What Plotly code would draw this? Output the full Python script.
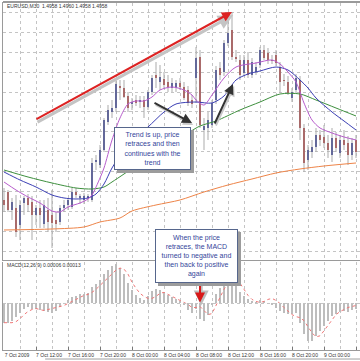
import plotly.graph_objects as go
import pandas as pd

# ---------------- data ----------------
start_time = "2009-10-07 08:00"
bar_minutes = 30

opens = [1.4672, 1.4680, 1.4662, 1.4664, 1.4647, 1.4669, 1.4674, 1.4670, 1.4657, 1.4664,
         1.4648, 1.4662, 1.4657, 1.4652, 1.4650, 1.4664, 1.4667, 1.4665, 1.4680, 1.4674,
         1.4672, 1.4674, 1.4672, 1.4710, 1.4707, 1.4722, 1.4750, 1.4760, 1.4764, 1.4786,
         1.4784, 1.4776, 1.4768, 1.4772, 1.4770, 1.4772, 1.4765, 1.4780, 1.4797, 1.4790,
         1.4793, 1.4790, 1.4784, 1.4784, 1.4789, 1.4785, 1.4782, 1.4772, 1.4794, 1.4815,
         1.4742, 1.4744, 1.4747, 1.4772, 1.4804, 1.4800, 1.4829, 1.4842, 1.4815, 1.4812,
         1.4799, 1.4812, 1.4797, 1.4800, 1.4807, 1.4822, 1.4819, 1.4812, 1.4817, 1.4805,
         1.4792, 1.4790, 1.4774, 1.4782, 1.4792, 1.4744, 1.4712, 1.4720, 1.4725, 1.4737,
         1.4735, 1.4729, 1.4717, 1.4734, 1.4719, 1.4732, 1.4729, 1.4717, 1.4732]
highs = [1.4684, 1.4682, 1.4674, 1.4677, 1.4672, 1.4676, 1.4678, 1.4676, 1.4667, 1.4672,
         1.4672, 1.4674, 1.4682, 1.4660, 1.4667, 1.4672, 1.4674, 1.4684, 1.4684, 1.4678,
         1.4679, 1.4678, 1.4714, 1.4717, 1.4727, 1.4754, 1.4767, 1.4772, 1.4794, 1.4792,
         1.4792, 1.4780, 1.4774, 1.4777, 1.4776, 1.4776, 1.4782, 1.4797, 1.4810, 1.4807,
         1.4800, 1.4797, 1.4794, 1.4792, 1.4794, 1.4790, 1.4786, 1.4777, 1.4825, 1.4822,
         1.4754, 1.4760, 1.4772, 1.4806, 1.4810, 1.4832, 1.4854, 1.4860, 1.4822, 1.4817,
         1.4817, 1.4820, 1.4814, 1.4810, 1.4825, 1.4827, 1.4824, 1.4817, 1.4822, 1.4810,
         1.4798, 1.4796, 1.4784, 1.4798, 1.4796, 1.4748, 1.4727, 1.4732, 1.4744, 1.4742,
         1.4747, 1.4737, 1.4744, 1.4740, 1.4737, 1.4742, 1.4736, 1.4734, 1.4737]
lows = [1.4660, 1.4660, 1.4652, 1.4635, 1.4632, 1.4657, 1.4660, 1.4632, 1.4647, 1.4644,
        1.4644, 1.4640, 1.4624, 1.4640, 1.4647, 1.4660, 1.4662, 1.4663, 1.4674, 1.4668,
        1.4668, 1.4670, 1.4670, 1.4702, 1.4704, 1.4720, 1.4747, 1.4754, 1.4760, 1.4772,
        1.4774, 1.4760, 1.4762, 1.4766, 1.4764, 1.4754, 1.4762, 1.4777, 1.4784, 1.4782,
        1.4784, 1.4780, 1.4780, 1.4780, 1.4782, 1.4772, 1.4766, 1.4764, 1.4769, 1.4744,
        1.4722, 1.4732, 1.4744, 1.4768, 1.4792, 1.4796, 1.4826, 1.4812, 1.4810, 1.4792,
        1.4796, 1.4794, 1.4794, 1.4797, 1.4804, 1.4812, 1.4808, 1.4808, 1.4806, 1.4779,
        1.4786, 1.4777, 1.4770, 1.4778, 1.4732, 1.4700, 1.4702, 1.4714, 1.4720, 1.4726,
        1.4724, 1.4714, 1.4710, 1.4720, 1.4714, 1.4722, 1.4707, 1.4712, 1.4714]
closes = [1.4667, 1.4662, 1.4670, 1.4640, 1.4667, 1.4674, 1.4667, 1.4657, 1.4664, 1.4657,
          1.4667, 1.4650, 1.4649, 1.4648, 1.4664, 1.4667, 1.4672, 1.4680, 1.4677, 1.4675,
          1.4676, 1.4676, 1.4709, 1.4712, 1.4722, 1.4752, 1.4762, 1.4764, 1.4788, 1.4784,
          1.4775, 1.4764, 1.4770, 1.4769, 1.4772, 1.4765, 1.4780, 1.4794, 1.4794, 1.4795,
          1.4787, 1.4785, 1.4789, 1.4789, 1.4785, 1.4774, 1.4769, 1.4768, 1.4814, 1.4747,
          1.4746, 1.4752, 1.4769, 1.4802, 1.4797, 1.4829, 1.4839, 1.4815, 1.4813, 1.4797,
          1.4812, 1.4797, 1.4810, 1.4805, 1.4822, 1.4814, 1.4812, 1.4811, 1.4809, 1.4790,
          1.4791, 1.4779, 1.4780, 1.4794, 1.4744, 1.4709, 1.4722, 1.4725, 1.4737, 1.4732,
          1.4729, 1.4722, 1.4734, 1.4724, 1.4732, 1.4727, 1.4717, 1.4729, 1.4720]

# moving averages read at selected bars (bar index, price)
ma_fast_bars = [0, 3, 6, 9, 12, 14, 16, 19, 21, 22, 24, 25, 27, 29, 31, 33, 35, 37, 39, 42,
                45, 47, 48, 50, 52, 55, 58, 63, 67, 69, 71, 73, 74, 75, 77, 79, 82, 85, 88]
ma_fast = [1.4690, 1.4682, 1.4675, 1.4669, 1.4661, 1.4660, 1.4665, 1.4669, 1.4673, 1.4677,
           1.4694, 1.4704, 1.4732, 1.4754, 1.4768, 1.4771, 1.4771, 1.4775, 1.4782, 1.4785,
           1.4782, 1.4777, 1.4772, 1.4767, 1.4777, 1.4794, 1.4805, 1.4809, 1.4812, 1.4808,
           1.4800, 1.4790, 1.4780, 1.4769, 1.4752, 1.4744, 1.4739, 1.4735, 1.4732]
ma_mid_bars = [0, 4, 8, 12, 15, 18, 21, 23, 25, 27, 30, 33, 36, 40, 43, 48, 52, 55, 58, 61,
               64, 68, 71, 74, 76, 78, 82, 85, 88]
ma_mid = [1.4700, 1.4692, 1.4685, 1.4677, 1.4674, 1.4673, 1.4674, 1.4678, 1.4688, 1.4704,
          1.4722, 1.4735, 1.4745, 1.4760, 1.4768, 1.4770, 1.4769, 1.4776, 1.4792, 1.4798,
          1.4801, 1.4805, 1.4802, 1.4792, 1.4784, 1.4774, 1.4760, 1.4751, 1.4742]
ma_slow_bars = [0, 6, 12, 18, 22, 25, 27, 30, 34, 38, 42, 46, 49, 53, 59, 64, 69, 74, 78, 83, 88]
ma_slow = [1.4702, 1.4695, 1.4689, 1.4684, 1.4683, 1.4685, 1.4690, 1.4698, 1.4709, 1.4720,
           1.4730, 1.4739, 1.4746, 1.4751, 1.4762, 1.4770, 1.4778, 1.4778, 1.4772, 1.4764, 1.4756]
ma_long_bars = [0, 12, 20, 24, 29, 32, 38, 44, 50, 56, 62, 68, 74, 80, 88]
ma_long = [1.4642, 1.4643, 1.4645, 1.4650, 1.4654, 1.4661, 1.4667, 1.4672, 1.4680, 1.4687,
           1.4693, 1.4699, 1.4703, 1.4706, 1.4709]

macd_hist = [-0.00095, -0.00095, -0.00085, -0.00065, -0.00045, -0.00025, -0.00015, -0.00025, -0.00025, -0.00030,
             -0.00035, -0.00040, -0.00045, -0.00035, -0.00015, 0.00000, 0.00015, 0.00030, 0.00035, 0.00045,
             0.00045, 0.00050, 0.00080, 0.00095, 0.00115, 0.00145, 0.00165, 0.00185, 0.00195, 0.00175,
             0.00145, 0.00100, 0.00065, 0.00040, 0.00025, 0.00015, 0.00035, 0.00060, 0.00070, 0.00065,
             0.00055, 0.00040, 0.00030, 0.00020, 0.00010, -0.00010, -0.00030, -0.00045, -0.00025, -0.00075,
             -0.00085, -0.00055, -0.00005, 0.00045, 0.00075, 0.00100, 0.00115, 0.00105, 0.00085, 0.00055,
             0.00035, 0.00020, 0.00010, 0.00005, 0.00015, 0.00010, 0.00000, -0.00010, -0.00020, -0.00035,
             -0.00045, -0.00050, -0.00050, -0.00045, -0.00095, -0.00150, -0.00185, -0.00185, -0.00160, -0.00135,
             -0.00110, -0.00085, -0.00060, -0.00050, -0.00040, -0.00035, -0.00040, -0.00030, -0.00025]
macd_signal = [-0.00095, -0.00095, -0.00095, -0.00090, -0.00075, -0.00055, -0.00040, -0.00030, -0.00025, -0.00030,
               -0.00035, -0.00030, -0.00025, -0.00020, -0.00015, -0.00010, 0.00000, 0.00010, 0.00020, 0.00030,
               0.00040, 0.00045, 0.00055, 0.00070, 0.00090, 0.00105, 0.00125, 0.00145, 0.00165, 0.00175,
               0.00170, 0.00145, 0.00105, 0.00075, 0.00050, 0.00035, 0.00025, 0.00025, 0.00035, 0.00050,
               0.00055, 0.00045, 0.00035, 0.00025, 0.00015, 0.00005, -0.00005, -0.00020, -0.00020, -0.00015,
               -0.00035, -0.00055, -0.00050, -0.00010, 0.00030, 0.00070, 0.00100, 0.00120, 0.00120, 0.00100,
               0.00070, 0.00040, 0.00020, 0.00010, 0.00005, 0.00010, 0.00020, 0.00025, 0.00015, 0.00000,
               -0.00020, -0.00040, -0.00055, -0.00065, -0.00070, -0.00085, -0.00115, -0.00145, -0.00165, -0.00160,
               -0.00135, -0.00110, -0.00080, -0.00055, -0.00040, -0.00030, -0.00020, -0.00015, -0.00010]

tick_bars = [0, 8, 16, 24, 32, 40, 48, 56, 64, 72, 80, 88]
tick_labels = ["7 Oct 2009", "7 Oct 12:00", "7 Oct 16:00", "7 Oct 20:00", "8 Oct 00:00", "8 Oct 04:00",
               "8 Oct 08:00", "8 Oct 12:00", "8 Oct 16:00", "8 Oct 20:00", "9 Oct 00:00", "9 Oct 04:00"]

header_text = "EURUSD,M30  1.4958 1.4960 1.4958 1.4958"
macd_text = "MACD(12,26,9) 0.00006 0.00013"
note_trend = "Trend is up, price<br>retraces and then<br>continues with the<br>trend"
note_macd = "When the price<br>retraces, the MACD<br>turned to negative and<br>then back to positive<br>again"

# ---------------- helpers ----------------
t0 = pd.Timestamp(start_time)
step = pd.Timedelta(minutes=bar_minutes)


def t(i):
    return (t0 + step * i).strftime("%Y-%m-%d %H:%M:%S")


n = len(opens)
times = [t(i) for i in range(n)]
BAR_MS = bar_minutes * 60 * 1000

BULL = "#1c2788"
BEAR = "#a82a2a"
WICK = "#ababab"
GRID = "#c4c4c4"
FRAME = "#9a9a9a"
FONT = "Liberation Sans, Arial, sans-serif"

fig = go.Figure()

# wicks
wx, wy = [], []
for i in range(n):
    wx += [times[i], times[i], None]
    wy += [highs[i], lows[i], None]
fig.add_trace(go.Scatter(x=wx, y=wy, mode="lines", line=dict(color=WICK, width=1),
                         hoverinfo="skip", xaxis="x", yaxis="y"))

# bodies
for bull, col in [(True, BULL), (False, BEAR)]:
    bx, bb, bh = [], [], []
    for i in range(n):
        if (closes[i] >= opens[i]) == bull:
            bx.append(times[i])
            bb.append(min(opens[i], closes[i]))
            bh.append(max(abs(closes[i] - opens[i]), 0.00008))
    fig.add_trace(go.Bar(x=bx, y=bh, base=bb, width=0.65 * BAR_MS,
                         marker=dict(color=col, line=dict(width=0)),
                         xaxis="x", yaxis="y", hoverinfo="skip"))

# moving averages
for bars, vals, col in [(ma_long_bars, ma_long, "#ee8448"),
                        (ma_slow_bars, ma_slow, "#3d8f3d"),
                        (ma_mid_bars, ma_mid, "#3b3fb4"),
                        (ma_fast_bars, ma_fast, "#b75ccc")]:
    fig.add_trace(go.Scatter(x=[t(i) for i in bars], y=vals, mode="lines",
                             line=dict(color=col, width=1, shape="spline", smoothing=0.8),
                             hoverinfo="skip", xaxis="x", yaxis="y"))

# MACD
fig.add_trace(go.Bar(x=times, y=macd_hist, width=0.22 * BAR_MS,
                     marker=dict(color="#bdbdbd", line=dict(width=0)),
                     xaxis="x2", yaxis="y2", hoverinfo="skip"))
fig.add_trace(go.Scatter(x=times, y=macd_signal, mode="lines",
                         line=dict(color="#f07878", width=1, dash="dot"),
                         xaxis="x2", yaxis="y2", hoverinfo="skip"))

x_range = [t(-0.25), t(89)]

common_x = dict(type="date", range=x_range, showline=True, linecolor=FRAME, linewidth=1,
                showgrid=True, griddash="dot", gridcolor=GRID, gridwidth=1,
                tickmode="array", tickvals=[t(b) for b in tick_bars],
                minor=dict(tick0=t(0), dtick=2 * 3600 * 1000, showgrid=True,
                           griddash="dot", gridcolor=GRID, ticks=""),
                zeroline=False)

main_dom = [0.2594, 1.0]
macd_dom = [0.0, 0.2536]

fig.update_layout(
    width=360, height=361,
    margin=dict(l=3, r=0, t=3, b=11),
    paper_bgcolor="white", plot_bgcolor="white",
    showlegend=False, barmode="overlay", bargap=0,
    xaxis=dict(common_x, domain=[0, 1], anchor="y", mirror=True, showticklabels=False, ticks=""),
    yaxis=dict(domain=main_dom, anchor="x", range=[1.4612, 1.4869], showticklabels=False,
               showline=True, linecolor=FRAME, showgrid=True, griddash="dot", gridcolor=GRID,
               tick0=1.4620, dtick=0.0020, zeroline=False, ticks=""),
    xaxis2=dict(common_x, domain=[0, 1], anchor="y2", ticktext=tick_labels,
                ticks="inside", ticklen=3, tickcolor="#777777",
                tickfont=dict(size=5, color="#333333", family=FONT),
                ticklabelshift=13, ticklabelstandoff=0),
    yaxis2=dict(domain=macd_dom, anchor="x2", range=[-0.0023, 0.00205], showticklabels=False,
                showline=True, linecolor=FRAME, showgrid=False, zeroline=False, ticks=""),
)

# zero level of MACD
fig.add_shape(type="line", xref="x2 domain", yref="y2", x0=0, x1=1, y0=0, y1=0,
              line=dict(color=GRID, width=1, dash="dot"))
# thicker top edge of the chart window
fig.add_shape(type="line", xref="paper", yref="paper", x0=0, x1=1, y0=1.003, y1=1.003,
              line=dict(color="#9a9a9a", width=2))
# window edge below time scale
fig.add_shape(type="line", xref="paper", yref="paper", x0=0.118, x1=1.0, y0=-0.026, y1=-0.026,
              line=dict(color="#a0a0a0", width=1))

ann = []
# header texts
ann.append(dict(text=header_text, xref="paper", yref="paper", x=0.006, y=0.991,
                xanchor="left", yanchor="middle", showarrow=False,
                font=dict(size=5, color="#333333", family=FONT)))
ann.append(dict(text=macd_text, xref="paper", yref="paper", x=0.006, y=0.245,
                xanchor="left", yanchor="middle", showarrow=False,
                font=dict(size=5, color="#333333", family=FONT)))

# red trend arrow with grey shadow
ann.append(dict(x=t(57.3), y=1.4857, ax=t(8.0), ay=1.4749, xref="x", yref="y", axref="x", ayref="y",
                showarrow=True, arrowhead=2, arrowsize=1.0, arrowwidth=3, arrowcolor="#c4c4c4", text=""))
ann.append(dict(x=t(57.0), y=1.4860, ax=t(7.75), ay=1.4752, xref="x", yref="y", axref="x", ayref="y",
                showarrow=True, arrowhead=2, arrowsize=1.0, arrowwidth=2, arrowcolor="#dd2222", text=""))

# dark arrows
for (hx, hy, tx, ty) in [(47.0, 1.4749, 37.25, 1.4770), (57.25, 1.4788, 52.5, 1.4747)]:
    ann.append(dict(x=t(hx + 0.3), y=hy - 0.0002, ax=t(tx + 0.3), ay=ty - 0.0002,
                    xref="x", yref="y", axref="x", ayref="y",
                    showarrow=True, arrowhead=2, arrowsize=1.0, arrowwidth=2, arrowcolor="#c8c8c8", text=""))
    ann.append(dict(x=t(hx), y=hy, ax=t(tx), ay=ty, xref="x", yref="y", axref="x", ayref="y",
                    showarrow=True, arrowhead=2, arrowsize=1.0, arrowwidth=2, arrowcolor="#333333", text=""))

# red down arrow in MACD
ann.append(dict(x=t(49.3), y=-0.0001, ax=t(49.3), ay=0.0012, xref="x2", yref="y2", axref="x2", ayref="y2",
                showarrow=True, arrowhead=2, arrowsize=1.0, arrowwidth=3, arrowcolor="#bdbdbd", text=""))
ann.append(dict(x=t(49.0), y=0.00005, ax=t(49.0), ay=0.0012, xref="x2", yref="y2", axref="x2", ayref="y2",
                showarrow=True, arrowhead=2, arrowsize=1.0, arrowwidth=2, arrowcolor="#d81818", text=""))

# text boxes with shadows
for (txt, px, py, w, h) in [(note_trend, 0.4188, 0.5807, 73, 39),
                            (note_macd, 0.542, 0.2709, 79, 50)]:
    ann.append(dict(text=" ", xref="paper", yref="paper", x=px, y=py, xanchor="center", yanchor="middle",
                    showarrow=False, width=w, height=h, bgcolor="#9c9c9c", bordercolor="#9c9c9c",
                    borderwidth=1, borderpad=1, xshift=3, yshift=-3))
    ann.append(dict(text=txt, xref="paper", yref="paper", x=px, y=py, xanchor="center", yanchor="middle",
                    showarrow=False, width=w, height=h, bgcolor="white", bordercolor="#56668c",
                    borderwidth=1, borderpad=1, align="center",
                    font=dict(size=7, color="#34459a", family=FONT)))

fig.update_layout(annotations=ann)

fig.write_html("out.html",
               config={"displayModeBar": False},
               post_script="document.body.style.margin='0';document.body.style.padding='0';")
